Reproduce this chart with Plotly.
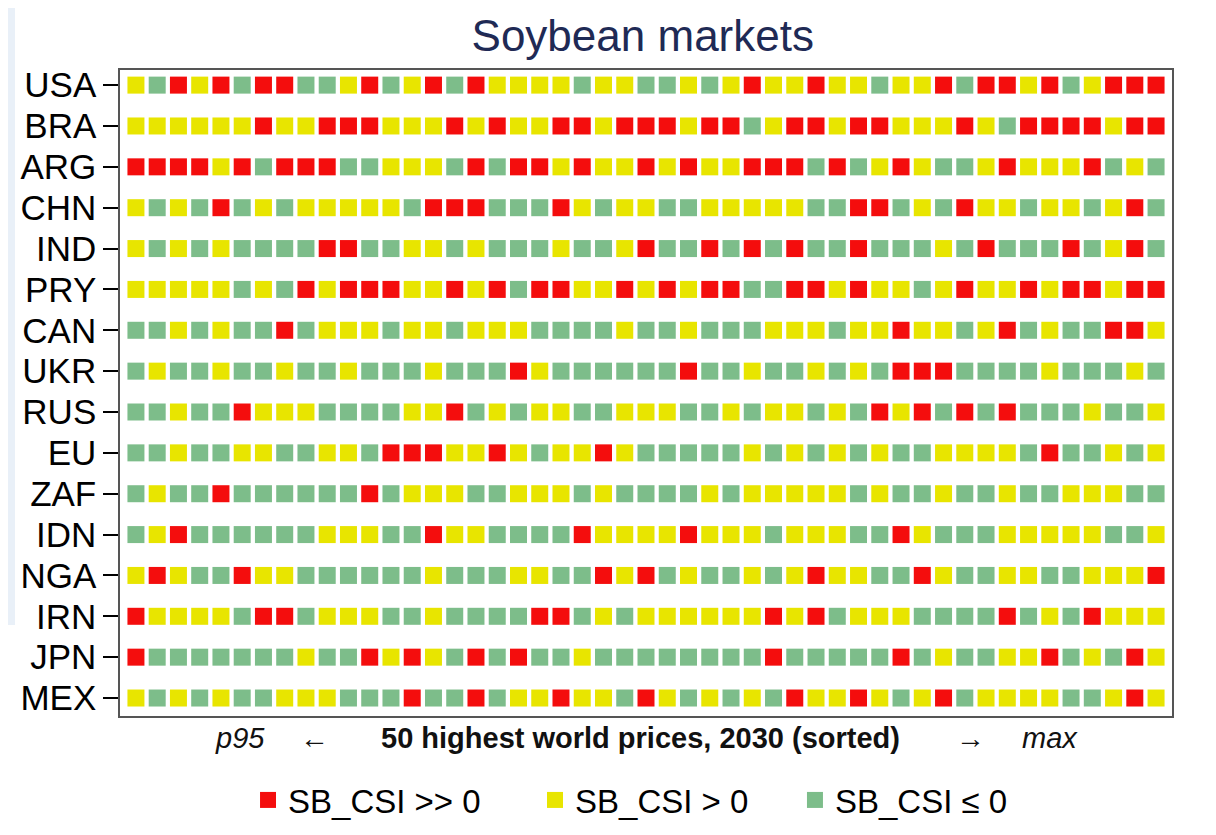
import plotly.graph_objects as go

# ---- data ----
countries = ["USA", "BRA", "ARG", "CHN", "IND", "PRY", "CAN", "UKR",
             "RUS", "EU", "ZAF", "IDN", "NGA", "IRN", "JPN", "MEX"]

# R = SB_CSI >> 0, Y = SB_CSI > 0, G = SB_CSI <= 0 ; columns sorted p95 -> max
USA = "YGRYRGRRGGYRGYRG" + "R" + "YYYYGYYGGYGYRYYR" + "YYGYYRGRRYRGYRRR"
BRA = "YYYYYYRYYRRRYYYR" + "Y" + "RYYRRYRRRYRRGYRR" + "YRRYYYRYGRRRRYRR"
ARG = "RRRRYRGRRRGGYYYG" + "R" + "GRRYRYYRYRYYRRRG" + "RGYRYGGYRYYYRGYG"
CHN = "YGYGRGYGYYYYYGRR" + "R" + "GGGRYGYYGGYYYYYG" + "GRRGYGRYYGYYGYRG"
IND = "YGYGYGGGGRRGGYYG" + "Y" + "GGGYGGYRGGRGRGRG" + "GRGGGYGRGGGRGYRG"
PRY = "YYYYYGYGRYRRRYYR" + "Y" + "RGRRYYRYRYRRGGRR" + "YRYYGYRYYRYRRYRR"
CAN = "GGYGYGGRGYYYGYYG" + "Y" + "YYGGGGYGGYGGGYYY" + "GYYRYYGYRGYGGRRY"
UKR = "GYGGYGGYGGYGGGYG" + "G" + "GRYGGGGGGRGGYGGY" + "GYGRRRGGGGYGGGYG"
RUS = "GGYGGRYYYGGGGYYR" + "G" + "YGYYGGYYYGGYGYYG" + "YGRYRGRGRGGGYGGY"
EU  = "GGYGGYYGGYYGRRRY" + "Y" + "RYGYYRYGGGGGYGYG" + "YGYGGYYYYGRGGYGY"
ZAF = "GYGGRGGGGGGRGYYY" + "G" + "GYYYGYGGGGYGYYYY" + "YGYGGYGGYGGYYYGG"
IDN = "GYRGGGGGGYYYGGRY" + "Y" + "GGGGRYYYYRYYYGYY" + "YGGRYGGGYYYYYGGY"
NGA = "YRYGGRYYGGGGGGYG" + "G" + "GYYGGRYRGYGGYGYR" + "YYGGRYGGYYGGYYYR"
IRN = "RYYYYGRRGYYYGGYG" + "G" + "GGRRGYGYYYYYYRYR" + "GYYYGGGGRGYGRYYY"
JPN = "RGGGGGGGYGGRYRYG" + "R" + "GRGGYGGGGGGGGRGG" + "GGGRGYGGYYRGYGRY"
MEX = "YGYGYGGYYYGGGRGG" + "R" + "GYYRYYGRYGYGYGRY" + "YRYGYRGYYYYGGYRY"

rows = [USA, BRA, ARG, CHN, IND, PRY, CAN, UKR, RUS, EU, ZAF, IDN, NGA, IRN, JPN, MEX]

categories = ["R", "Y", "G"]
legend_names = ["SB_CSI >> 0", "SB_CSI > 0", "SB_CSI \u2264 0"]
colors = {"R": "#f40d0d", "Y": "#e8e500", "G": "#7dbd8a"}
legend_ids = ["legend", "legend2", "legend3"]
legend_x = [0.1217, 0.3945, 0.6416]

fig = go.Figure()
for cat, name, lid in zip(categories, legend_names, legend_ids):
    xs, ys = [], []
    for i, row in enumerate(rows):
        for j, c in enumerate(row):
            if c == cat:
                xs.append(j + 1)
                ys.append(i)
    fig.add_trace(go.Scatter(
        x=xs, y=ys, mode="markers", name=name, legend=lid,
        marker=dict(symbol="square", size=17, color=colors[cat], line=dict(width=0)),
        hoverinfo="skip",
    ))

ncol = len(rows[0])
leg_common = dict(orientation="h", y=-0.130, yanchor="middle", xanchor="left",
                  font=dict(size=33, color="black"), itemsizing="trace",
                  bgcolor="rgba(0,0,0,0)")

fig.update_layout(
    width=1216, height=835,
    margin=dict(l=112, r=52, t=62, b=127, autoexpand=False),
    paper_bgcolor="white", plot_bgcolor="white",
    font=dict(family="Liberation Sans, Arial, sans-serif", color="black"),
    title=dict(text="Soybean markets", x=0.522, xanchor="center", y=0.9665, yanchor="middle",
               font=dict(size=44, color="#1f2a55")),
    showlegend=True,
    legend=dict(x=legend_x[0], **leg_common),
    legend2=dict(x=legend_x[1], **leg_common),
    legend3=dict(x=legend_x[2], **leg_common),
    xaxis=dict(range=[0.25, ncol + 0.75], showgrid=False, zeroline=False,
               showticklabels=False, ticks="", showline=True, mirror=True,
               linecolor="#555555", linewidth=1.5, fixedrange=True),
    yaxis=dict(range=[15.44, -0.37], showgrid=False, zeroline=False,
               tickvals=list(range(len(countries))), ticktext=countries,
               ticks="outside", ticklen=15, tickcolor="black", tickwidth=1.5,
               tickfont=dict(size=35), showline=True, mirror=True,
               linecolor="#555555", linewidth=1.5, fixedrange=True),
)

# pale slide background strip (left edge)
fig.add_shape(type="rect", xref="paper", yref="paper", x0=-0.12, x1=-0.0998,
              y0=0.141, y1=1.12, fillcolor="#e9f0f8", line=dict(width=0), layer="below")

# x-axis caption
cap_y = -0.034
cap_font = dict(size=29, color="#111111")
cap_items = [("<i>p95</i>", 0.114), ("\u2190", 0.185),
             ("<b>50 highest world prices, 2030 (sorted)</b>", 0.495),
             ("\u2192", 0.808), ("<i>max</i>", 0.884)]
for txt, xp in cap_items:
    fig.add_annotation(text=txt, x=xp, y=cap_y, xref="paper", yref="paper",
                       showarrow=False, font=cap_font, xanchor="center", yanchor="middle")

fig.write_html("out.html")
